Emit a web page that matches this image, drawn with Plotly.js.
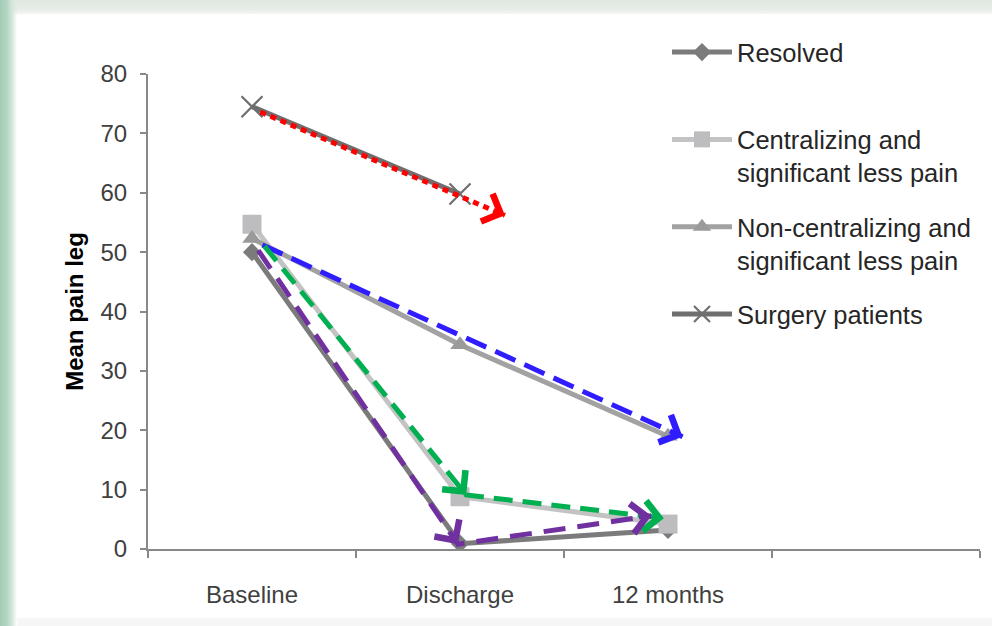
<!DOCTYPE html>
<html>
<head>
<meta charset="utf-8">
<script src="https://cdn.plot.ly/plotly-3.0.1.min.js"></script>
<style>
  html, body { margin: 0; padding: 0; width: 992px; height: 626px; overflow: hidden; }
  body {
    background:
      linear-gradient(to right, #a2cbb6 0px, #b5d6c4 7px, #d3e6da 12px, rgba(255,255,255,0) 17px),
      linear-gradient(to bottom, #dfe8e1 0px, #e8eee9 10px, #f4f6f4 14px, #ffffff 16px);
  }
  #chart { position: absolute; left: 17px; top: 14px; width: 975px; height: 604px; background: #fff; }
  #bottom { position: absolute; left: 17px; top: 618px; width: 975px; height: 8px; background: #f5f6f5; }
</style>
</head>
<body>
<div id="chart"></div>
<div id="bottom"></div>
<script>
// ---- data ----
const categories = ['Baseline', 'Discharge', '12 months'];
const categoryIndex = [0, 1, 2];
const seriesNames = ['Resolved', 'Centralizing and<br>significant less pain', 'Non-centralizing and<br>significant less pain', 'Surgery patients'];
const resolved = [50, 0.9, 3.2];
const centralizing = [54.7, 8.8, 4.2];
const nonCentralizing = [52.3, 34.4, 19.0];
const surgery = [74.5, 59.8];
const yTicks = [0, 10, 20, 30, 40, 50, 60, 70, 80];

// annotation arrows (drawn over the chart), in data units
const redArrowX = [0.04, 1.216];
const redArrowY = [73.6, 56.2];
const blueArrowX = [0.05, 2.07];
const blueArrowY = [51.2, 18.9];
const greenArrowX = [0.06, 1.03, 1.98];
const greenArrowY = [51.0, 9.1, 5.2];
const purpleArrowX = [0.03, 0.99, 1.92];
const purpleArrowY = [50.3, 0.8, 5.6];

// ---- layout geometry ----
const W = 975, H = 604;
const M = { l: 131, r: 12, t: 60, b: 69 };
const xRange = [-0.5, 3.5];
const yRange = [0, 80];
const pxPerX = (W - M.l - M.r) / (xRange[1] - xRange[0]);
const pxPerY = (H - M.t - M.b) / (yRange[1] - yRange[0]);

const FONT = 'Liberation Sans, Arial, sans-serif';

function series(name, y, color, symbol, msize, mcolor, extra) {
  return {
    type: 'scatter', mode: 'lines+markers', name: name,
    x: categoryIndex.slice(0, y.length), y: y,
    line: { color: color, width: 5 },
    marker: Object.assign({ symbol: symbol, size: msize, color: mcolor }, extra || {}),
    legendgroup: name
  };
}

const traces = [
  series(seriesNames[0] + '<br> ', resolved, '#7b7b7b', 'diamond', 14, '#7b7b7b'),
  series(seriesNames[1], centralizing, '#c3c3c3', 'square', 19, '#bdbdc0'),
  series(seriesNames[2], nonCentralizing, '#a2a2a2', 'triangle-up', 17, '#9a9a9a'),
  series(seriesNames[3], surgery, '#6f6f6f', 'x-thin', 21, '#6f6f6f', { line: { width: 2.2, color: '#6f6f6f' } })
];

const arrows = [
  { x: redArrowX, y: redArrowY, color: '#ff0000', dash: '6px,5px' },
  { x: blueArrowX, y: blueArrowY, color: '#2f1cff', dash: '22px,10px' },
  { x: greenArrowX, y: greenArrowY, color: '#00b050', dash: '19px,10px' },
  { x: purpleArrowX, y: purpleArrowY, color: '#7030a0', dash: '22px,12px' }
];

const annotations = [];
arrows.forEach(a => {
  traces.push({
    type: 'scatter', mode: 'lines', x: a.x, y: a.y, showlegend: false, hoverinfo: 'skip',
    line: { color: a.color, width: 5, dash: a.dash }
  });
  for (let i = 1; i < a.x.length; i++) {
    const dx = (a.x[i] - a.x[i - 1]) * pxPerX;
    const dy = -(a.y[i] - a.y[i - 1]) * pxPerY;
    const len = Math.sqrt(dx * dx + dy * dy);
    const L = 14;
    annotations.push({
      x: a.x[i], y: a.y[i], xref: 'x', yref: 'y', text: '',
      showarrow: true, arrowhead: 4, arrowsize: 1.45, arrowwidth: 4, arrowcolor: a.color,
      ax: -dx / len * L, ay: -dy / len * L, standoff: 0
    });
  }
});

const layout = {
  width: W, height: H,
  margin: M,
  paper_bgcolor: '#ffffff', plot_bgcolor: '#ffffff',
  font: { family: FONT, color: '#404040', size: 24 },
  showlegend: true,
  legend: {
    x: (667 - 148) / 832, xanchor: 'left',
    y: 1 + (74 - 29) / 475, yanchor: 'top',
    valign: 'top', traceorder: 'grouped', tracegroupgap: 18,
    itemwidth: 60,
    font: { family: FONT, size: 25.5, color: '#262626' },
    bgcolor: 'rgba(0,0,0,0)'
  },
  xaxis: {
    range: xRange, showgrid: false, zeroline: false,
    tickmode: 'array', tickvals: categoryIndex, ticktext: categories,
    ticks: '', ticklabelstandoff: 23,
    showline: true, linecolor: '#888888', linewidth: 2,
    tickfont: { family: FONT, size: 24, color: '#404040' },
    minor: { tickmode: 'array', tickvals: [-0.5, 0.5, 1.5, 2.5, 3.5], ticks: 'outside', ticklen: 7, tickwidth: 2, tickcolor: '#888888', showgrid: false }
  },
  yaxis: {
    range: yRange, showgrid: false, zeroline: false,
    tickmode: 'array', tickvals: yTicks,
    ticks: 'outside', ticklen: 6, tickwidth: 2, tickcolor: '#888888',
    showline: true, linecolor: '#888888', linewidth: 2,
    tickfont: { family: FONT, size: 24, color: '#404040' },
    ticklabelstandoff: 8,
    title: { text: 'Mean pain leg', font: { family: FONT, size: 24, color: '#000000', weight: 'bold' }, standoff: 10 }
  },
  annotations: annotations
};

Plotly.newPlot('chart', traces, layout, { displayModeBar: false, staticPlot: true });
</script>
</body>
</html>
